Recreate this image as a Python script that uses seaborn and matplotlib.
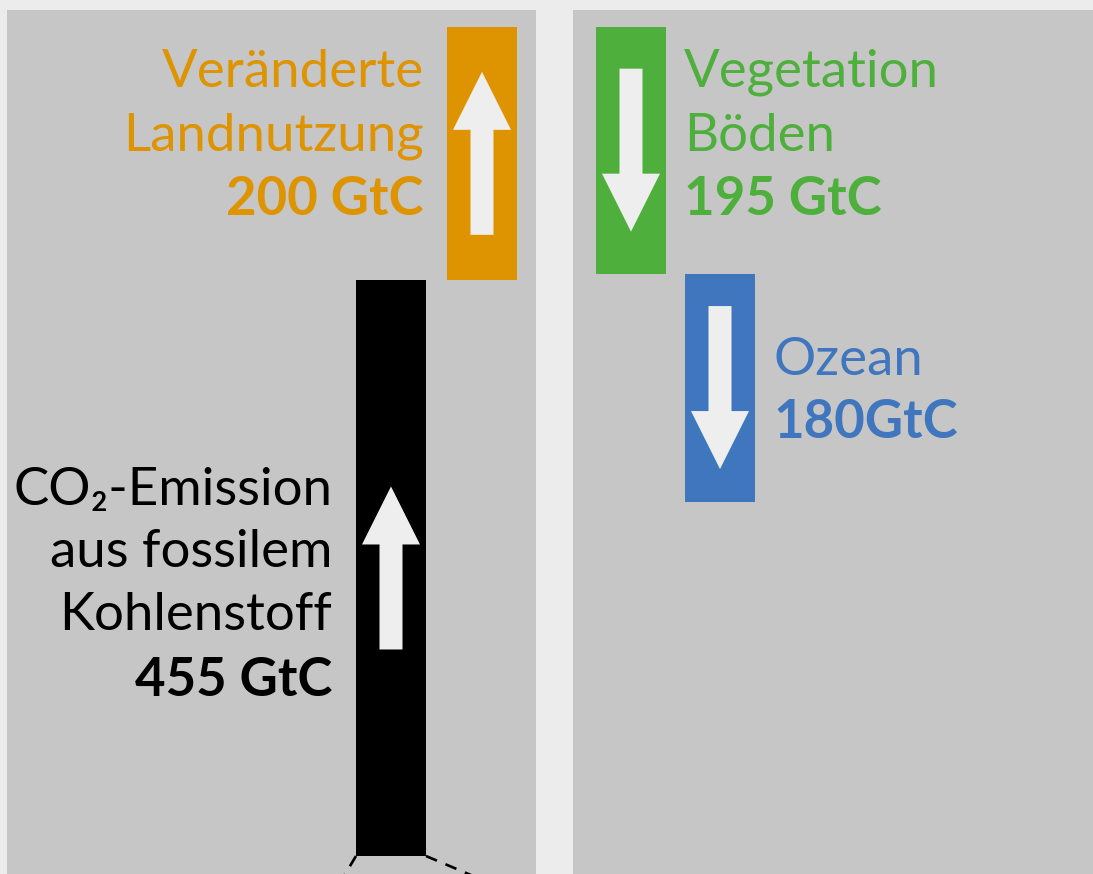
import numpy as np
import pandas as pd
import seaborn as sns
import matplotlib.pyplot as plt
from matplotlib.patches import FancyArrow

# ---------------- data ----------------
source_names = ["fossil", "land"]
source_values = [455, 200]          # GtC, stacked upwards
source_lines = [
    ["CO₂-Emission", "aus fossilem", "Kohlenstoff", "455 GtC"],
    ["Veränderte", "Landnutzung", "200 GtC"],
]
source_colors = ["#000000", "#de9300"]

sink_names = ["vegetation", "ocean"]
sink_values = [195, 180]            # GtC, stacked downwards from the total
sink_lines = [
    ["Vegetation", "Böden", "195 GtC"],
    ["Ozean", "180GtC"],
]
sink_colors = ["#4faf3c", "#3f76bd"]

# ---------------- style ----------------
sns.set_theme(style="white")
FIG_BG = "#ececec"
PANEL_BG = "#c6c6c6"
ARROW_C = "#eeeeee"
plt.rcParams["font.family"] = ["Lato", "DejaVu Sans"]

W, H, DPI = 1093, 874, 100
fig = plt.figure(figsize=(W / DPI, H / DPI), dpi=DPI, facecolor=FIG_BG)

ylim = (-14.2, 668.2)
ax_l = fig.add_axes([7 / W, 0, 529 / W, 864 / H], facecolor=PANEL_BG)
ax_r = fig.add_axes([573 / W, 0, 520 / W, 864 / H], facecolor=PANEL_BG)
ax_l.set_xlim((7 - 391) / 91, (536 - 391) / 91)
ax_r.set_xlim((573 - 631) / 89, (1093 - 631) / 89)
for ax in (ax_l, ax_r):
    ax.set_ylim(*ylim)
    ax.set_xticks([])
    ax.set_yticks([])
    sns.despine(ax=ax, left=True, bottom=True)

src = pd.DataFrame({"name": source_names, "value": source_values, "color": source_colors})
src["bottom"] = np.concatenate([[0], np.cumsum(source_values)[:-1]])
src["x"] = np.arange(len(src))
total = float(np.sum(source_values))
snk = pd.DataFrame({"name": sink_names, "value": sink_values, "color": sink_colors})
snk["top"] = total - np.concatenate([[0], np.cumsum(sink_values)[:-1]])
snk["bottom"] = snk["top"] - snk["value"]
snk["x"] = np.arange(len(snk))


def px_per_x(ax, width_px):
    lo, hi = ax.get_xlim()
    return width_px / (hi - lo)


px_y = 864 / (ylim[1] - ylim[0])   # pixels per GtC
BAR_PX = 70
ARROW_LEN = 163 / px_y
HEAD_LEN = 58 / px_y


def draw(ax, df, panel_w, upward):
    ppx = px_per_x(ax, panel_w)
    bw = BAR_PX / ppx
    ax.bar(df["x"], df["value"], bottom=df["bottom"], width=bw,
           color=df["color"], linewidth=0, zorder=2)
    for _, r in df.iterrows():
        mid = r["bottom"] + r["value"] / 2
        if upward:
            y0, dy = mid - ARROW_LEN / 2, ARROW_LEN
        else:
            y0, dy = mid + ARROW_LEN / 2, -ARROW_LEN
        ax.add_patch(FancyArrow(r["x"], y0, 0, dy, width=23 / ppx,
                                head_width=58 / ppx, head_length=HEAD_LEN,
                                length_includes_head=True, color=ARROW_C,
                                linewidth=0, zorder=3))
    return bw


bw_l = draw(ax_l, src, 529, True)
bw_r = draw(ax_r, snk, 520, False)

PT = 72 / DPI  # points per pixel
FS = 38


def label(ax, x, y, lines, color, gap_px, baselines_px, ha):
    for i, (txt, b) in enumerate(zip(lines, baselines_px)):
        ax.annotate(txt, xy=(x, y), xytext=(gap_px * PT, -b * PT),
                    textcoords="offset points", ha=ha, va="baseline",
                    fontsize=FS, color=color,
                    fontweight="bold" if i == len(lines) - 1 else "normal",
                    family=["Lato", "DejaVu Sans"], zorder=4)


# sources: labels to the left of bars
top_fossil = src.loc[0, "bottom"] + src.loc[0, "value"]
label(ax_l, src.loc[0, "x"] - bw_l / 2, top_fossil, source_lines[0],
      source_colors[0], -24, [225, 287, 350, 416], "right")
top_land = src.loc[1, "bottom"] + src.loc[1, "value"]
label(ax_l, src.loc[1, "x"] - bw_l / 2, top_land, source_lines[1],
      source_colors[1], -23, [60, 124, 188], "right")

# sinks: labels to the right of bars
label(ax_r, snk.loc[0, "x"] + bw_r / 2, snk.loc[0, "top"], sink_lines[0],
      sink_colors[0], 18, [60, 124, 188], "left")
label(ax_r, snk.loc[1, "x"] + bw_r / 2, snk.loc[1, "top"], sink_lines[1],
      sink_colors[1], 18, [101, 164], "left")

# dashed guide lines leaving the base of the fossil bar
ppx_l = px_per_x(ax_l, 529)
x_left = src.loc[0, "x"] - bw_l / 2
x_right = src.loc[0, "x"] + bw_l / 2
drop = 60 / px_y
ax_l.plot([x_left, x_left - 36 / ppx_l], [0, -drop], color="black",
          lw=1.9, ls=(0, (4.5, 3.5)), zorder=1)
ax_l.plot([x_right, x_right + 142 / ppx_l], [0, -drop], color="black",
          lw=1.9, ls=(0, (4.5, 3.5)), zorder=1)

fig.savefig("out.png", dpi=DPI, facecolor=FIG_BG)
